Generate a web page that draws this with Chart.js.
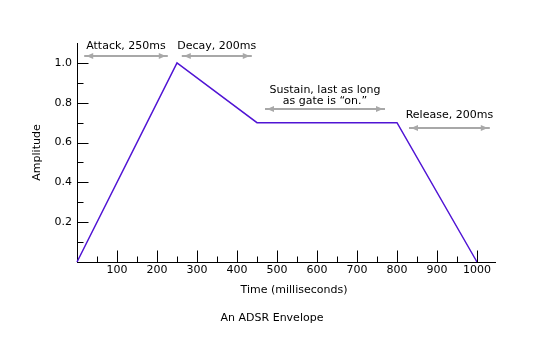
<!DOCTYPE html>
<html>
<head>
<meta charset="utf-8">
<script src="https://cdn.jsdelivr.net/npm/chart.js@4.4.1/dist/chart.umd.min.js"></script>
<style>
  html, body { margin: 0; padding: 0; background: #fff; }
</style>
</head>
<body>
<canvas id="adsr" width="552" height="353"></canvas>
<script>
// envelope breakpoints
const timeMs = [0, 250, 450, 800, 1000];
const amplitude = [0, 1.0, 0.7, 0.7, 0];

// axis ticks
const xTicks = [100, 200, 300, 400, 500, 600, 700, 800, 900, 1000];
const xMinorTicks = [50, 150, 250, 350, 450, 550, 650, 750, 850, 950];
const yTicks = [0.2, 0.4, 0.6, 0.8, 1.0];
const yMinorTicks = [0.1, 0.3, 0.5, 0.7, 0.9];

// stage annotations (double arrows with captions)
const spanLabels = [['Attack, 250ms'], ['Decay, 200ms'], ['Sustain, last as long', 'as gate is \u201Con.\u201D'], ['Release, 200ms']];
const spanStart = [18, 262, 470, 830];
const spanEnd = [227, 437, 770, 1032];
const spanLevel = [1.033, 1.033, 0.766, 0.675];
const spanTextLevel = [1.068, 1.068, 0.796, 0.725];

const xTitle = 'Time (milliseconds)';
const caption = 'An ADSR Envelope';

const FONT = 'DejaVu Sans';

const tickMarks = {
  id: 'tickMarks',
  afterDraw(chart) {
    const {ctx, chartArea, scales: {x, y}} = chart;
    ctx.save();
    ctx.strokeStyle = '#000';
    ctx.lineWidth = 1;
    ctx.beginPath();
    const y0 = Math.round(y.getPixelForValue(0)) + 0.5;
    const x0 = Math.round(x.getPixelForValue(0)) + 0.5;
    xTicks.forEach(v => {
      const px = Math.round(x.getPixelForValue(v)) + 0.5;
      ctx.moveTo(px, y0); ctx.lineTo(px, y0 - 12);
    });
    xMinorTicks.forEach(v => {
      const px = Math.round(x.getPixelForValue(v)) + 0.5;
      ctx.moveTo(px, y0); ctx.lineTo(px, y0 - 6);
    });
    yTicks.forEach(v => {
      const py = Math.round(y.getPixelForValue(v)) + 0.5;
      ctx.moveTo(x0, py); ctx.lineTo(x0 + 11, py);
    });
    yMinorTicks.forEach(v => {
      const py = Math.round(y.getPixelForValue(v)) + 0.5;
      ctx.moveTo(x0, py); ctx.lineTo(x0 + 6, py);
    });
    ctx.stroke();

    // annotations
    ctx.strokeStyle = '#a8a8a8';
    ctx.fillStyle = '#a8a8a8';
    ctx.lineWidth = 2;
    ctx.font = '11px "' + FONT + '"';
    spanLabels.forEach((lines, i) => {
      const xa = x.getPixelForValue(spanStart[i]);
      const xb = x.getPixelForValue(spanEnd[i]);
      const ya = Math.round(y.getPixelForValue(spanLevel[i]));
      ctx.beginPath();
      ctx.moveTo(xa, ya); ctx.lineTo(xb, ya);
      ctx.stroke();
      ctx.beginPath();
      ctx.moveTo(xa + 2, ya); ctx.lineTo(xa + 9, ya - 3); ctx.lineTo(xa + 9, ya + 3); ctx.closePath();
      ctx.moveTo(xb - 2, ya); ctx.lineTo(xb - 9, ya - 3); ctx.lineTo(xb - 9, ya + 3); ctx.closePath();
      ctx.fill();

      ctx.save();
      ctx.fillStyle = '#000';
      ctx.textAlign = 'center';
      ctx.textBaseline = 'alphabetic';
      const cx = (xa + xb) / 2;
      const base = y.getPixelForValue(spanTextLevel[i]);
      lines.forEach((t, k) => {
        ctx.fillText(t, cx, base - (lines.length - 1 - k) * 11);
      });
      ctx.restore();
    });

    // axis title and caption below the chart
    ctx.fillStyle = '#000';
    ctx.textAlign = 'center';
    ctx.textBaseline = 'middle';
    const mid = (chartArea.left + chartArea.right) / 2;
    ctx.fillText(xTitle, mid + 8, chartArea.bottom + 28);
    ctx.fillText(caption, mid - 14, chartArea.bottom + 56);
    ctx.restore();
  }
};

new Chart(document.getElementById('adsr'), {
  type: 'line',
  data: {
    labels: timeMs,
    datasets: [{
      data: timeMs.map((t, i) => ({x: t, y: amplitude[i]})),
      borderColor: '#5014d4',
      borderWidth: 1.5,
      pointRadius: 0,
      tension: 0,
      fill: false,
      clip: false
    }]
  },
  options: {
    responsive: false,
    animation: false,
    devicePixelRatio: 1,
    layout: { padding: { top: 43, right: 57, left: 0, bottom: 57 } },
    plugins: {
      legend: { display: false },
      tooltip: { enabled: false },
      title: { display: false }
    },
    scales: {
      x: {
        type: 'linear',
        position: 'bottom',
        min: 0,
        max: 1045,
        afterBuildTicks: s => { s.ticks = xTicks.map(v => ({value: v})); },
        afterFit: s => { s.height = 34; },
        grid: { display: false, drawTicks: false },
        border: { display: true, color: '#000', width: 1 },
        ticks: {
          color: '#000',
          padding: 2,
          maxRotation: 0,
          font: { family: FONT, size: 11 },
          callback: v => String(v)
        }
      },
      y: {
        type: 'linear',
        min: 0,
        max: 1.1,
        afterBuildTicks: s => { s.ticks = yTicks.map(v => ({value: v})); },
        afterFit: s => { s.width = 77; },
        grid: { display: false, drawTicks: false },
        border: { display: true, color: '#000', width: 1 },
        ticks: {
          color: '#000',
          padding: 5,
          font: { family: FONT, size: 11 },
          callback: v => v.toFixed(1)
        },
        title: {
          display: true,
          text: 'Amplitude',
          color: '#000',
          font: { family: FONT, size: 11 },
          padding: { top: 31, bottom: 0 }
        }
      }
    }
  },
  plugins: [tickMarks]
});
</script>
</body>
</html>
